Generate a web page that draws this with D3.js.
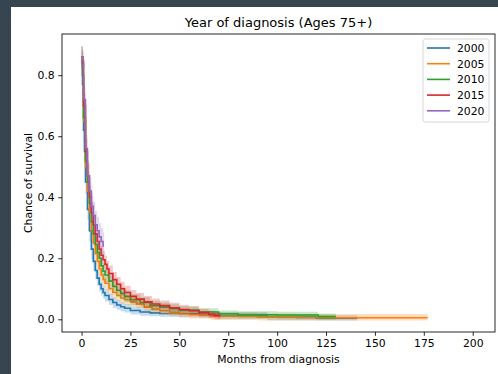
<!DOCTYPE html>
<html>
<head>
<meta charset="utf-8">
<script src="https://cdn.jsdelivr.net/npm/d3@7"></script>
<style>
    body { margin: 0; background: #36454f; }
    #chart { position: absolute; left: 11px; top: 7px; }
    text { font-family: "DejaVu Sans", sans-serif; }
</style>
</head>
<body>
<div id="chart"></div>
<script>
// DATA
// ================================================================================== //

const years = ["2000", "2005", "2010", "2015", "2020"];
const colors = ["#1f77b4", "#ff7f0e", "#2ca02c", "#d62728", "#9467bd"];

const xTicks = [0, 25, 50, 75, 100, 125, 150, 175, 200];
const yTicks = [0.0, 0.2, 0.4, 0.6, 0.8];

// Kaplan-Meier step points (months, survival, CI half-width)
const months2000 = [0, 0.5, 1, 1.5, 2, 3, 4, 5, 6, 7, 8, 9, 10, 11, 12, 14, 16, 18, 20, 22, 25, 30, 35, 40, 50, 60, 70, 95, 120, 141];
const surv2000 = [0.85, 0.77, 0.62, 0.55, 0.45, 0.36, 0.29, 0.23, 0.19, 0.16, 0.135, 0.115, 0.10, 0.088, 0.078, 0.065, 0.055, 0.047, 0.041, 0.036, 0.029, 0.024, 0.021, 0.019, 0.018, 0.016, 0.012, 0.007, 0.004, 0.004];
const ci2000 = [0.035, 0.035, 0.04, 0.04, 0.04, 0.035, 0.034, 0.032, 0.03, 0.028, 0.026, 0.024, 0.022, 0.021, 0.02, 0.018, 0.017, 0.016, 0.015, 0.014, 0.013, 0.012, 0.011, 0.011, 0.011, 0.011, 0.011, 0.01, 0.009, 0.009];

const months2005 = [0, 0.5, 1, 2, 3, 4, 5, 6, 7, 8, 9, 10, 11, 12, 14, 16, 18, 20, 22, 25, 28, 32, 36, 40, 45, 50, 55, 66, 90, 110, 130, 150, 177];
const surv2005 = [0.86, 0.80, 0.65, 0.50, 0.42, 0.35, 0.29, 0.25, 0.215, 0.19, 0.165, 0.145, 0.13, 0.118, 0.10, 0.088, 0.078, 0.07, 0.064, 0.057, 0.05, 0.04, 0.033, 0.028, 0.022, 0.018, 0.015, 0.01, 0.007, 0.005, 0.005, 0.005, 0.005];
const ci2005 = [0.035, 0.035, 0.04, 0.04, 0.035, 0.034, 0.032, 0.03, 0.029, 0.027, 0.026, 0.024, 0.023, 0.022, 0.02, 0.019, 0.018, 0.017, 0.016, 0.015, 0.014, 0.013, 0.013, 0.012, 0.012, 0.012, 0.012, 0.012, 0.012, 0.012, 0.012, 0.012, 0.012];

const months2010 = [0, 0.5, 1, 2, 3, 4, 5, 6, 7, 8, 9, 10, 11, 12, 14, 16, 18, 20, 22, 25, 30, 35, 40, 45, 50, 60, 70, 80, 100, 121, 130];
const surv2010 = [0.86, 0.80, 0.66, 0.52, 0.45, 0.38, 0.32, 0.28, 0.245, 0.22, 0.20, 0.175, 0.158, 0.145, 0.125, 0.108, 0.095, 0.085, 0.075, 0.064, 0.055, 0.045, 0.04, 0.035, 0.03, 0.024, 0.018, 0.015, 0.014, 0.009, 0.009];
const ci2010 = [0.035, 0.035, 0.04, 0.04, 0.035, 0.034, 0.033, 0.032, 0.031, 0.03, 0.029, 0.027, 0.026, 0.025, 0.023, 0.022, 0.021, 0.02, 0.019, 0.018, 0.017, 0.016, 0.015, 0.014, 0.013, 0.012, 0.011, 0.011, 0.011, 0.01, 0.01];

const months2015 = [0, 0.5, 1, 2, 3, 4, 5, 6, 7, 8, 9, 10, 11, 12, 13, 14, 16, 18, 20, 22, 25, 28, 32, 36, 40, 45, 50, 55, 60, 65, 68, 71];
const surv2015 = [0.86, 0.84, 0.70, 0.55, 0.47, 0.40, 0.35, 0.31, 0.28, 0.255, 0.23, 0.21, 0.195, 0.18, 0.165, 0.15, 0.13, 0.115, 0.10, 0.088, 0.075, 0.066, 0.057, 0.05, 0.045, 0.038, 0.032, 0.028, 0.022, 0.016, 0.012, 0.012];
const ci2015 = [0.035, 0.035, 0.04, 0.04, 0.04, 0.037, 0.035, 0.034, 0.033, 0.032, 0.031, 0.03, 0.029, 0.028, 0.027, 0.026, 0.025, 0.024, 0.023, 0.022, 0.021, 0.02, 0.019, 0.018, 0.017, 0.016, 0.015, 0.014, 0.013, 0.012, 0.012, 0.012];

const months2020 = [0, 0.5, 1, 2, 3, 4, 5, 6, 7, 8, 9, 10, 11, 11.5];
const surv2020 = [0.86, 0.85, 0.72, 0.56, 0.47, 0.42, 0.37, 0.34, 0.31, 0.29, 0.27, 0.255, 0.24, 0.24];
const ci2020 = [0.035, 0.035, 0.04, 0.045, 0.045, 0.045, 0.045, 0.045, 0.045, 0.045, 0.045, 0.045, 0.045, 0.045];

const seriesMonths = [months2000, months2005, months2010, months2015, months2020];
const seriesSurv = [surv2000, surv2005, surv2010, surv2015, surv2020];
const seriesCi = [ci2000, ci2005, ci2010, ci2015, ci2020];

// build series objects
const SERIES = years.map((year, i) => ({
    year: year,
    color: colors[i],
    points: seriesMonths[i].map((m, j) => ({
        month: m,
        surv: seriesSurv[i][j],
        lo: Math.max(-0.004, seriesSurv[i][j] - seriesCi[i][j]),
        hi: seriesSurv[i][j] + seriesCi[i][j],
    })),
}));

// ================================================================================== //
// DATA END


// CHART
const width = 487;
const height = 367;
const margin = ({ top: 27, right: 3, bottom: 42, left: 51 });

const svg = d3.select("#chart")
    .append("svg")
    .attr("width", width)
    .attr("height", height)
    .attr("style", "background-color:white; display:block");

const x = d3.scaleLinear()
    .domain([-10.0, 211.4])
    .range([margin.left, width - margin.right]);

const y = d3.scaleLinear()
    .domain([-0.0416, 0.935])
    .range([height - margin.bottom, margin.top]);

svg.append("clipPath")
    .attr("id", "plotClip")
    .append("rect")
    .attr("x", margin.left)
    .attr("y", margin.top)
    .attr("width", width - margin.left - margin.right)
    .attr("height", height - margin.top - margin.bottom);

const plot = svg.append("g").attr("clip-path", "url(#plotClip)");

const area = d3.area()
    .curve(d3.curveStepAfter)
    .x(d => x(d.month))
    .y0(d => y(d.lo))
    .y1(d => y(d.hi));

const line = d3.line()
    .curve(d3.curveStepAfter)
    .x(d => x(d.month))
    .y(d => y(d.surv));

// confidence bands first, then lines (as the plot draws per series)
SERIES.forEach(s => {
    plot.append("path")
        .datum(s.points)
        .attr("d", area)
        .attr("fill", s.color)
        .attr("fill-opacity", 0.25);
    plot.append("path")
        .datum(s.points)
        .attr("d", line)
        .attr("fill", "none")
        .attr("stroke", s.color)
        .attr("stroke-width", 1.6);
});

// axes
const xAxis = svg.append("g")
    .attr("transform", `translate(0,${height - margin.bottom})`)
    .call(d3.axisBottom(x).tickValues(xTicks).tickSize(3.8).tickPadding(3.5).tickFormat(d3.format("d")));

const yAxis = svg.append("g")
    .attr("transform", `translate(${margin.left},0)`)
    .call(d3.axisLeft(y).tickValues(yTicks).tickSize(3.8).tickPadding(3.5).tickFormat(d3.format(".1f")));

[xAxis, yAxis].forEach(g => {
    g.selectAll(".domain").remove();
    g.selectAll(".tick line").attr("stroke", "#000").attr("stroke-width", 0.85);
    g.selectAll("text").attr("font-size", "10.8px").attr("fill", "#000")
        .attr("font-family", "DejaVu Sans, sans-serif");
});

// spines
svg.append("rect")
    .attr("x", margin.left)
    .attr("y", margin.top)
    .attr("width", width - margin.left - margin.right)
    .attr("height", height - margin.top - margin.bottom)
    .attr("fill", "none")
    .attr("stroke", "#000")
    .attr("stroke-width", 0.85);

// labels
const plotCx = (margin.left + width - margin.right) / 2;

svg.append("text")
    .attr("x", plotCx)
    .attr("y", 20)
    .attr("text-anchor", "middle")
    .attr("font-size", "13px")
    .text("Year of diagnosis (Ages 75+)");

svg.append("text")
    .attr("x", plotCx)
    .attr("y", 356)
    .attr("text-anchor", "middle")
    .attr("font-size", "10.8px")
    .text("Months from diagnosis");

svg.append("text")
    .attr("transform", `translate(21,${(margin.top + height - margin.bottom) / 2}) rotate(-90)`)
    .attr("text-anchor", "middle")
    .attr("font-size", "10.8px")
    .text("Chance of survival");

// legend
const legend = svg.append("g")
    .attr("transform", `translate(412,32)`);

legend.append("rect")
    .attr("width", 66)
    .attr("height", 83)
    .attr("rx", 2.5)
    .attr("fill", "white")
    .attr("fill-opacity", 0.8)
    .attr("stroke", "#d0d0d0")
    .attr("stroke-width", 0.85);

const legendItems = legend.selectAll(".item")
    .data(SERIES)
    .enter()
    .append("g")
    .attr("transform", (d, i) => `translate(0,${9 + i * 15.7})`);

legendItems.append("line")
    .attr("x1", 4)
    .attr("x2", 27)
    .attr("stroke", d => d.color)
    .attr("stroke-width", 1.6);

legendItems.append("text")
    .attr("x", 34)
    .attr("dy", "0.36em")
    .attr("font-size", "10.8px")
    .text(d => d.year);
</script>
</body>
</html>
